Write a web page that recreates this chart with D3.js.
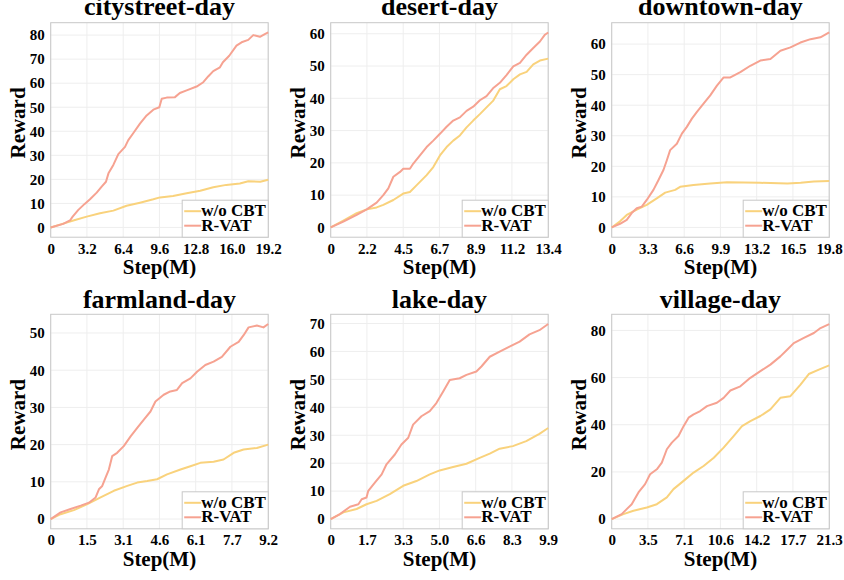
<!DOCTYPE html>
<html>
<head>
<meta charset="utf-8">
<script src="https://cdn.jsdelivr.net/npm/d3@7"></script>
<style>
  body { margin: 0; background: #fff; }
  svg text { font-family: "Liberation Serif", "Times New Roman", Times, serif !important; font-weight: bold; fill: #000; }
</style>
</head>
<body>
<div id="chart"></div>
<script>
'use strict';

// panel titles and x tick labels (7 evenly spaced ticks, 0..max)
const titles = ['citystreet-day', 'desert-day', 'downtown-day', 'farmland-day', 'lake-day', 'village-day'];
const xMaxes = [19.2, 13.4, 19.8, 9.2, 9.9, 21.3];
const xTickLabels = [
  ['0', '3.2', '6.4', '9.6', '12.8', '16.0', '19.2'],
  ['0', '2.2', '4.5', '6.7', '8.9', '11.2', '13.4'],
  ['0', '3.3', '6.6', '9.9', '13.2', '16.5', '19.8'],
  ['0', '1.5', '3.1', '4.6', '6.1', '7.7', '9.2'],
  ['0', '1.7', '3.3', '5.0', '6.6', '8.3', '9.9'],
  ['0', '3.5', '7.1', '10.6', '14.2', '17.7', '21.3']
];
const yTickValues = [
  [0, 10, 20, 30, 40, 50, 60, 70, 80],
  [0, 10, 20, 30, 40, 50, 60],
  [0, 10, 20, 30, 40, 50, 60],
  [0, 10, 20, 30, 40, 50],
  [0, 10, 20, 30, 40, 50, 60, 70],
  [0, 20, 40, 60, 80]
];

// series: [step (M), reward]
const citystreetWo = [[0,0],[1.4,2],[2.0,2.9],[3.18,4.5],[4.35,5.9],[5.53,7],[6.7,9],[7.88,10.3],[9.06,11.7],[9.65,12.5],[10.8,13.1],[12.0,14.2],[13.2,15.3],[14.35,16.7],[15.5,17.7],[16.7,18.3],[17.44,19.2],[18.5,19],[19.2,19.8]];
const citystreetRvat = [[0,0],[1.1,1.5],[1.7,2.9],[1.94,4.5],[2.44,7.3],[3.0,9.8],[3.47,11.7],[4.06,14.5],[4.5,17],[4.88,19],[5.1,22.5],[5.53,26],[5.97,30.5],[6.56,33.5],[6.85,36.3],[7.3,39.3],[7.88,43.2],[8.47,46.6],[9.06,49],[9.59,50],[9.8,53.5],[10.24,54],[10.97,54.2],[11.4,55.9],[12.0,57],[12.88,58.6],[13.47,60.4],[13.9,62.8],[14.35,65],[14.94,66.6],[15.2,68.7],[15.76,71.4],[16.4,75.6],[16.85,77],[17.44,78],[17.88,80],[18.47,79.3],[18.9,80.4],[19.2,81.1]];

const desertWo = [[0,0],[0.78,2.1],[1.6,4.4],[2.22,5.6],[2.83,6.2],[3.24,7],[3.86,8.5],[4.47,10.5],[4.88,11],[5.3,13.1],[5.91,16.2],[6.32,18.7],[6.73,22.3],[7.14,24.9],[7.55,26.9],[7.96,28.5],[8.37,31],[8.78,33.1],[9.19,35.1],[9.6,37.2],[10.0,39.2],[10.42,42.8],[10.83,43.8],[11.25,45.9],[11.66,47.4],[12.07,48.2],[12.48,50.5],[12.89,51.7],[13.4,52.3]];
const desertRvat = [[0,0],[0.78,1.8],[1.6,3.9],[2.22,5.6],[2.83,7.7],[3.24,10],[3.55,12.1],[3.86,15.7],[4.27,17.2],[4.47,18.2],[4.88,18.2],[5.09,19.8],[5.5,22.3],[5.91,24.9],[6.32,26.9],[6.73,29],[7.14,31.2],[7.55,33.1],[7.96,34.1],[8.37,36.1],[8.78,37.4],[9.19,39.4],[9.6,40.7],[10.0,43.1],[10.42,44.8],[10.83,47.2],[11.25,49.9],[11.66,51],[12.07,53.5],[12.48,55.6],[12.89,57.6],[13.2,59.7],[13.4,60.4]];

const downtownWo = [[0,0],[0.76,2],[1.37,4.1],[2.28,5.8],[3.19,7.4],[4.1,9.5],[4.87,11.4],[5.78,12.3],[6.23,13.3],[7.45,13.9],[8.97,14.4],[10.5,14.8],[13.5,14.6],[16.0,14.4],[17.2,14.6],[18.4,15],[19.8,15.2]];
const downtownRvat = [[0,0],[0.76,1.2],[1.37,2.5],[1.82,4.7],[2.28,6.3],[2.74,6.8],[3.19,9],[3.8,12.3],[4.26,15.5],[4.71,18.8],[5.02,22],[5.32,25.3],[5.93,27.4],[6.39,30.7],[6.84,32.9],[7.3,35.6],[7.76,37.8],[8.36,40.5],[8.97,43.2],[9.58,46.4],[10.19,49.1],[10.8,49.1],[11.71,50.8],[12.62,52.9],[13.53,54.6],[14.45,55.1],[15.36,57.8],[16.27,58.9],[17.18,60.5],[18.1,61.6],[19.0,62.2],[19.8,63.8]];

const farmlandWo = [[0,0],[0.42,1.3],[0.98,2.4],[1.55,4],[2.11,5.8],[2.67,7.6],[3.24,8.9],[3.66,9.8],[4.08,10.2],[4.5,10.7],[4.92,12],[5.49,13.3],[5.91,14.2],[6.33,15.1],[6.89,15.4],[7.31,16],[7.74,17.8],[8.16,18.7],[8.72,19.1],[9.2,20]];
const farmlandRvat = [[0,0],[0.42,1.8],[0.84,2.7],[1.27,3.6],[1.62,4.4],[1.9,5.8],[2.04,8],[2.18,8.9],[2.32,11.1],[2.46,13.3],[2.6,16.9],[2.81,17.8],[3.09,19.6],[3.38,22.2],[3.66,24.5],[3.94,26.7],[4.22,28.9],[4.43,31.6],[4.78,33.4],[5.06,34.3],[5.34,34.7],[5.56,36.5],[5.91,37.8],[6.19,39.6],[6.54,41.4],[6.89,42.3],[7.24,43.6],[7.6,46.3],[7.95,47.6],[8.16,49.4],[8.37,51.5],[8.72,52],[9.0,51.5],[9.2,52.4]];

const lakeWo = [[0,0],[0.58,2.4],[1.18,3.6],[1.63,5.3],[2.09,6.5],[2.69,8.9],[3.3,11.9],[3.9,13.6],[4.51,16],[4.96,17.4],[5.57,18.6],[6.18,19.8],[6.78,21.9],[7.24,23.4],[7.69,25.2],[8.29,26.1],[8.9,27.9],[9.5,30.5],[9.9,32.6]];
const lakeRvat = [[0,0],[0.42,1.8],[0.88,4.4],[1.26,5.3],[1.41,7.1],[1.63,7.7],[1.71,10.1],[2.01,13],[2.32,16],[2.54,19.6],[2.92,23.1],[3.22,26.7],[3.53,29.1],[3.75,33.8],[4.13,36.8],[4.51,38.6],[4.81,41.5],[5.12,45.7],[5.42,49.8],[5.87,50.4],[6.18,51.6],[6.63,52.8],[6.86,54.6],[7.24,58.1],[7.69,59.9],[8.14,61.7],[8.6,63.5],[9.05,66.1],[9.5,67.6],[9.9,69.8]];

const villageWo = [[0,0],[1.15,2.1],[2.13,3.5],[3.44,4.9],[4.42,6.3],[5.4,9.2],[6.05,12.7],[7.04,16.2],[8.02,19.7],[9.0,22.5],[10.0,26],[10.96,30.3],[11.94,35.2],[12.76,39.4],[13.58,41.5],[14.56,43.7],[15.54,46.5],[16.52,51.4],[17.5,52.1],[18.49,57],[19.3,61.5],[20.29,63.4],[21.3,65.2]];
const villageRvat = [[0,0],[0.98,2.1],[1.47,4.2],[1.96,6.3],[2.62,11.3],[3.27,14.8],[3.76,19],[4.42,21.1],[4.91,23.9],[5.4,29.6],[5.89,32.4],[6.54,35.2],[7.04,39.4],[7.53,43],[8.02,44.4],[8.67,45.8],[9.33,47.9],[10.3,49.3],[10.96,51.4],[11.62,54.5],[12.6,56.3],[13.58,59.9],[14.56,62.7],[15.54,65.5],[16.52,69],[17.18,71.8],[17.83,74.6],[18.82,76.8],[19.8,78.9],[20.45,81],[21.3,82.7]];

const seriesNames = ['w/o CBT', 'R-VAT'];
const seriesColors = ['#f9d27c', '#f6a291'];

const woSeries = [citystreetWo, desertWo, downtownWo, farmlandWo, lakeWo, villageWo];
const rvatSeries = [citystreetRvat, desertRvat, downtownRvat, farmlandRvat, lakeRvat, villageRvat];

const serif = '"Liberation Serif", "Times New Roman", Times, serif';

//layout of the 2x3 grid
const width = 844, height = 580;
const colLeft = [50.7, 330.7, 611.7];
const rowTop = [22.7, 314.3];
const plotW = 217.5, plotH = 214.5;

const svg = d3.select('#chart').append('svg')
  .attr('width', width)
  .attr('height', height)
  .attr('font-family', serif);

titles.forEach((title, i) => {
  const left = colLeft[i % 3], top = rowTop[Math.floor(i / 3)];
  const g = svg.append('g').attr('transform', 'translate(' + left + ',' + top + ')');

  const wo = woSeries[i], rvat = rvatSeries[i];
  const yMaxData = d3.max(wo.concat(rvat), d => d[1]);
  const pad = yMaxData * 0.05;

  const xScale = d3.scaleLinear().domain([0, xMaxes[i]]).range([0, plotW]);
  const yScale = d3.scaleLinear().domain([-pad, yMaxData + pad]).range([plotH, 0]);
  const xTicks = xTickLabels[i].map((d, k) => k * xMaxes[i] / 6);

  //grid
  g.append('g').selectAll('line').data(xTicks).join('line')
    .attr('x1', d => xScale(d)).attr('x2', d => xScale(d))
    .attr('y1', 0).attr('y2', plotH)
    .attr('stroke', '#eeeeee').attr('stroke-width', 1);
  g.append('g').selectAll('line').data(yTickValues[i]).join('line')
    .attr('x1', 0).attr('x2', plotW)
    .attr('y1', d => yScale(d)).attr('y2', d => yScale(d))
    .attr('stroke', '#eeeeee').attr('stroke-width', 1);

  //axes (labels only)
  const xAxis = g.append('g')
    .attr('transform', 'translate(0,' + plotH + ')')
    .call(d3.axisBottom(xScale).tickValues(xTicks).tickSize(0).tickPadding(6)
      .tickFormat((d, k) => xTickLabels[i][k]));
  const yAxis = g.append('g')
    .call(d3.axisLeft(yScale).tickValues(yTickValues[i]).tickSize(0).tickPadding(6));
  [xAxis, yAxis].forEach(ax => {
    ax.attr('font-family', serif).attr('font-size', 15);
    ax.select('.domain').remove();
    ax.selectAll('text').attr('fill', '#000').style('font-weight', 'bold');
  });

  //frame
  g.append('rect')
    .attr('x', 0).attr('y', 0).attr('width', plotW).attr('height', plotH)
    .attr('fill', 'none').attr('stroke', '#c8c8c8').attr('stroke-width', 1);

  //lines
  const line = d3.line()
    .x(d => xScale(d[0]))
    .y(d => yScale(d[1]));

  [wo, rvat].forEach((data, k) => {
    g.append('path')
      .datum(data)
      .attr('fill', 'none')
      .attr('stroke', seriesColors[k])
      .attr('stroke-width', 2)
      .attr('stroke-linejoin', 'round')
      .attr('d', line);
  });

  //legend
  const lw = 86, lh = 37;
  const lg = g.append('g').attr('transform', 'translate(' + (plotW - lw) + ',' + (plotH - lh) + ')');
  lg.append('rect')
    .attr('width', lw).attr('height', lh)
    .attr('fill', '#fff').attr('stroke', '#c8c8c8').attr('stroke-width', 1);
  seriesNames.forEach((name, k) => {
    const y = 11 + k * 14.5;
    lg.append('line')
      .attr('x1', 2).attr('x2', 19).attr('y1', y).attr('y2', y)
      .attr('stroke', seriesColors[k]).attr('stroke-width', 2);
    lg.append('text')
      .attr('x', 19).attr('y', y + 5)
      .style('font-size', '17px')
      .text(name);
  });

  //titles and axis labels
  g.append('text')
    .attr('x', plotW / 2).attr('y', i < 3 ? -7.4 : -6)
    .attr('text-anchor', 'middle')
    .style('font-size', '26px')
    .text(title);
  g.append('text')
    .attr('x', plotW / 2).attr('y', plotH + 37)
    .attr('text-anchor', 'middle')
    .style('font-size', '21px')
    .text('Step(M)');
  g.append('text')
    .attr('transform', 'translate(-26,' + (plotH / 2 - 7) + ') rotate(-90)')
    .attr('text-anchor', 'middle')
    .style('font-size', '21px')
    .text('Reward');
});
</script>
</body>
</html>
